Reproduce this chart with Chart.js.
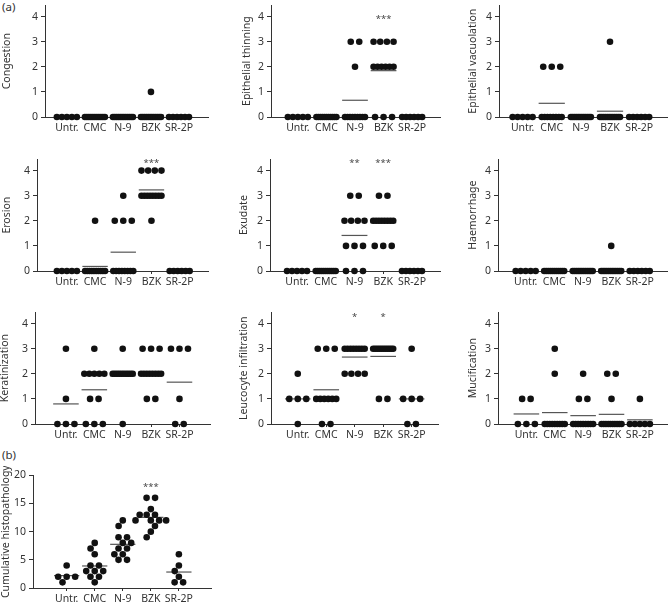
<!DOCTYPE html>
<html>
<head>
<meta charset="utf-8">
<script src="https://cdn.jsdelivr.net/npm/chart.js@4.4.1/dist/chart.umd.min.js"></script>
<style>
body { margin: 0; background: #fff; width: 670px; height: 609px; position: relative; overflow: hidden; font-family: "Noto Sans", sans-serif; }
.tag { position: absolute; font-size: 11.5px; color: #333; line-height: 14px; }
</style>
</head>
<body>
<div class="tag" style="left:2px;top:0px">(a)</div>
<div class="tag" style="left:2px;top:448px">(b)</div>
<script>
// groups: Untr., CMC, N-9, BZK, SR-2P  (n = 5, 11, 12, 13, 6)
const groups = ['Untr.', 'CMC', 'N-9', 'BZK', 'SR-2P'];
const scoreTicks = [0, 1, 2, 3, 4];
const cumulTicks = [0, 5, 10, 15, 20];

const congestion = [
    [0, 0, 0, 0, 0],
    [0, 0, 0, 0, 0, 0, 0, 0, 0, 0, 0],
    [0, 0, 0, 0, 0, 0, 0, 0, 0, 0, 0, 0],
    [1, 0, 0, 0, 0, 0, 0, 0, 0, 0, 0, 0, 0],
    [0, 0, 0, 0, 0, 0]
];
const thinning = [
    [0, 0, 0, 0, 0],
    [0, 0, 0, 0, 0, 0, 0, 0, 0, 0, 0],
    [3, 3, 2, 0, 0, 0, 0, 0, 0, 0, 0, 0],
    [3, 3, 3, 3, 2, 2, 2, 2, 2, 2, 0, 0, 0],
    [0, 0, 0, 0, 0, 0]
];
const vacuolation = [
    [0, 0, 0, 0, 0],
    [2, 2, 2, 0, 0, 0, 0, 0, 0, 0, 0],
    [0, 0, 0, 0, 0, 0, 0, 0, 0, 0, 0, 0],
    [3, 0, 0, 0, 0, 0, 0, 0, 0, 0, 0, 0, 0],
    [0, 0, 0, 0, 0, 0]
];
const erosion = [
    [0, 0, 0, 0, 0],
    [2, 0, 0, 0, 0, 0, 0, 0, 0, 0, 0],
    [3, 2, 2, 2, 0, 0, 0, 0, 0, 0, 0, 0],
    [4, 4, 4, 4, 3, 3, 3, 3, 3, 3, 3, 3, 2],
    [0, 0, 0, 0, 0, 0]
];
const exudate = [
    [0, 0, 0, 0, 0],
    [0, 0, 0, 0, 0, 0, 0, 0, 0, 0, 0],
    [3, 3, 2, 2, 2, 2, 1, 1, 1, 0, 0, 0],
    [3, 3, 2, 2, 2, 2, 2, 2, 2, 2, 1, 1, 1],
    [0, 0, 0, 0, 0, 0]
];
const haemorrhage = [
    [0, 0, 0, 0, 0],
    [0, 0, 0, 0, 0, 0, 0, 0, 0, 0, 0],
    [0, 0, 0, 0, 0, 0, 0, 0, 0, 0, 0, 0],
    [1, 0, 0, 0, 0, 0, 0, 0, 0, 0, 0, 0, 0],
    [0, 0, 0, 0, 0, 0]
];
const keratinization = [
    [3, 1, 0, 0, 0],
    [3, 2, 2, 2, 2, 2, 1, 1, 0, 0, 0],
    [3, 2, 2, 2, 2, 2, 2, 2, 2, 2, 2, 0],
    [3, 3, 3, 2, 2, 2, 2, 2, 2, 2, 2, 1, 1],
    [3, 3, 3, 1, 0, 0]
];
const leucocyte = [
    [2, 1, 1, 1, 0],
    [3, 3, 3, 1, 1, 1, 1, 1, 1, 0, 0],
    [3, 3, 3, 3, 3, 3, 3, 3, 2, 2, 2, 2],
    [3, 3, 3, 3, 3, 3, 3, 3, 3, 3, 3, 1, 1],
    [3, 1, 1, 1, 0, 0]
];
const mucification = [
    [1, 1, 0, 0, 0],
    [3, 2, 0, 0, 0, 0, 0, 0, 0, 0, 0],
    [2, 1, 1, 0, 0, 0, 0, 0, 0, 0, 0, 0],
    [2, 2, 1, 0, 0, 0, 0, 0, 0, 0, 0, 0, 0],
    [1, 0, 0, 0, 0, 0]
];
const cumulative = [
    [4, 2, 2, 2, 1],
    [8, 7, 6, 4, 4, 3, 3, 3, 2, 2, 1],
    [12, 11, 9, 9, 8, 8, 7, 7, 6, 6, 5, 5],
    [16, 16, 14, 13, 13, 13, 12, 12, 12, 12, 11, 10, 9],
    [6, 4, 3, 2, 1, 1]
];

const thinningStars = ['', '', '', '***', ''];
const erosionStars = ['', '', '', '***', ''];
const exudateStars = ['', '', '**', '***', ''];
const leucocyteStars = ['', '', '*', '*', ''];
const cumulativeStars = ['', '', '', '***', ''];

const ink = '#333';
const fontName = 'Noto Sans';
Chart.defaults.font.family = fontName;

const panels = [
    { title: 'Congestion', data: congestion, ticks: scoreTicks, ymax: 4.45, left: 45, right: 210, top: 4, bottom: 117, xmin: 0.22, xmax: 6.06, titleX: 7 },
    { title: 'Epithelial thinning', data: thinning, ticks: scoreTicks, ymax: 4.45, left: 271, right: 442, top: 4, bottom: 117, xmin: 0.06, xmax: 6.0, titleX: 247, stars: thinningStars, starLevel: 4.04 },
    { title: 'Epithelial vacuolation', data: vacuolation, ticks: scoreTicks, ymax: 4.45, left: 499, right: 669, top: 4, bottom: 117, xmin: 0.19, xmax: 5.98, titleX: 473 },
    { title: 'Erosion', data: erosion, ticks: scoreTicks, ymax: 4.45, left: 37, right: 210, top: 158, bottom: 271, xmin: -0.06, xmax: 6.03, titleX: 7, stars: erosionStars, starLevel: 4.43 },
    { title: 'Exudate', data: exudate, ticks: scoreTicks, ymax: 4.45, left: 270, right: 442, top: 158, bottom: 271, xmin: 0.06, xmax: 6.0, titleX: 244, stars: exudateStars, starLevel: 4.43 },
    { title: 'Haemorrhage', data: haemorrhage, ticks: scoreTicks, ymax: 4.45, left: 498, right: 669, top: 158, bottom: 271, xmin: 0.03, xmax: 5.98, titleX: 473 },
    { title: 'Keratinization', data: keratinization, ticks: scoreTicks, ymax: 4.45, left: 35, right: 212, top: 311, bottom: 424, xmin: -0.09, xmax: 6.1, titleX: 5 },
    { title: 'Leucocyte infiltration', data: leucocyte, ticks: scoreTicks, ymax: 4.45, left: 271, right: 440, top: 311, bottom: 424, xmin: 0.06, xmax: 5.95, titleX: 244, stars: leucocyteStars, starLevel: 4.4 },
    { title: 'Mucification', data: mucification, ticks: scoreTicks, ymax: 4.45, left: 498, right: 669, top: 311, bottom: 424, xmin: 0.0, xmax: 5.98, titleX: 473 },
    { title: 'Cumulative histopathology', data: cumulative, ticks: cumulTicks, ymax: 20, left: 33, right: 213, top: 474, bottom: 588, xmin: -0.2, xmax: 6.17, titleX: 6, stars: cumulativeStars, starLevel: 18.4 }
];

const starPlugin = {
    id: 'stars',
    afterDatasetsDraw(chart, args, opts) {
        if (!opts.marks) return;
        const { ctx, scales: { x, y } } = chart;
        ctx.save();
        ctx.fillStyle = '#444';
        ctx.font = `9.5px "${fontName}"`;
        ctx.textAlign = 'center';
        ctx.textBaseline = 'alphabetic';
        opts.marks.forEach((s, i) => {
            if (s) ctx.fillText(s, x.getPixelForValue(i + 1), y.getPixelForValue(opts.level) + 6);
        });
        ctx.restore();
    }
};

// sideways spread of one group's dots, in pixels from the group centre:
// equal values sit in a centred row; a row that would touch dots already
// placed is put down dot by dot at the free spot nearest the centre
function spreadGroup(vals, yPix, sp, maxW, dist) {
    const rows = [...new Set(vals)].sort((a, b) => b - a);
    const placed = [];
    const off = new Array(vals.length);
    const free = (x, y) => placed.every(p => Math.hypot(p.x - x, p.y - y) >= dist - 0.01);
    rows.forEach(v => {
        const idx = [];
        vals.forEach((u, i) => { if (u === v) idx.push(i); });
        const n = idx.length;
        const s = n > 1 ? Math.min(sp, maxW / (n - 1)) : sp;
        const py = yPix(v);
        const row = idx.map((_, k) => (k - (n - 1) / 2) * s);
        if (row.every(x => free(x, py))) {
            row.forEach((x, k) => { off[idx[k]] = x; placed.push({ x, y: py }); });
            return;
        }
        idx.forEach(i => {
            const cands = [0];
            placed.forEach(p => {
                const dy = Math.abs(p.y - py);
                if (dy < dist) {
                    const h = Math.sqrt(dist * dist - dy * dy);
                    cands.push(p.x - h, p.x + h);
                }
            });
            const ok = cands.filter(x => free(x, py));
            const left = placed.filter(p => p.x < -0.5).length;
            const right = placed.filter(p => p.x > 0.5).length;
            ok.sort((a, b) => Math.abs(a) - Math.abs(b) || (left <= right ? a - b : b - a));
            const x = ok[0];
            off[i] = x;
            placed.push({ x, y: py });
        });
    });
    return off;
}

panels.forEach(p => {
    const padTop = 8, padRight = 2, xH = 20;
    const cLeft = p.titleX - 8;
    const yW = p.left - cLeft;
    const w = (p.right - p.left) + yW + padRight;
    const h = (p.bottom - p.top) + padTop + xH;
    const cv = document.createElement('canvas');
    cv.width = w;
    cv.height = h;
    cv.style.cssText = `position:absolute;left:${cLeft}px;top:${p.top - padTop}px;width:${w}px;height:${h}px`;
    document.body.appendChild(cv);

    const dots = [];
    p.data.forEach((vals, gi) => vals.forEach(v => dots.push({ x: gi + 1, y: v })));

    const means = p.data.map((vals, gi) => {
        const m = vals.reduce((a, b) => a + b, 0) / vals.length;
        return {
            label: groups[gi] + ' mean',
            data: [{ x: gi + 1 - 0.45, y: m }, { x: gi + 1 + 0.45, y: m }],
            showLine: true,
            borderColor: '#555',
            borderWidth: 1.2,
            pointRadius: 0,
            clip: false
        };
    });

    const chart = new Chart(cv, {
        type: 'scatter',
        data: {
            datasets: [{
                label: p.title,
                data: dots,
                backgroundColor: '#111',
                borderWidth: 0,
                pointRadius: 3.3,
                pointHoverRadius: 3.3,
                clip: false
            }, ...means]
        },
        options: {
            responsive: false,
            animation: false,
            events: [],
            layout: { padding: { top: padTop, right: padRight, left: 0, bottom: 0 } },
            plugins: {
                legend: { display: false },
                tooltip: { enabled: false },
                stars: { marks: p.stars, level: p.starLevel }
            },
            scales: {
                x: {
                    type: 'linear',
                    min: p.xmin,
                    max: p.xmax,
                    afterBuildTicks: s => { s.ticks = groups.map((g, i) => ({ value: i + 1 })); },
                    afterFit: s => { s.height = xH; },
                    ticks: {
                        callback: v => groups[v - 1] || '',
                        color: ink,
                        font: { size: 10.5 },
                        padding: 2,
                        maxRotation: 0,
                        autoSkip: false
                    },
                    grid: { drawOnChartArea: false, drawTicks: true, tickLength: 3, color: ink },
                    border: { display: true, color: ink, width: 1 }
                },
                y: {
                    min: 0,
                    max: p.ymax,
                    afterBuildTicks: s => { s.ticks = p.ticks.map(v => ({ value: v })); },
                    afterFit: s => { s.width = yW; },
                    ticks: { color: ink, font: { size: 10.5 }, padding: 3 },
                    grid: { drawOnChartArea: false, drawTicks: true, tickLength: 4, color: ink },
                    border: { display: true, color: ink, width: 1 },
                    title: {
                        display: true,
                        text: p.title,
                        color: ink,
                        font: { size: 10.5 },
                        padding: { top: 1.7, bottom: 0 }
                    }
                }
            }
        },
        plugins: [starPlugin]
    });

    // second pass: spread the dots sideways using the chart's own scales
    const xs = chart.scales.x, ys = chart.scales.y;
    let k = 0;
    p.data.forEach((vals, gi) => {
        const cx = xs.getPixelForValue(gi + 1);
        const off = spreadGroup(vals, v => ys.getPixelForValue(v), 8.5, 20, 7);
        vals.forEach((v, j) => {
            chart.data.datasets[0].data[k++].x = xs.getValueForPixel(cx + off[j]);
        });
    });
    chart.update('none');
});
</script>
</body>
</html>
